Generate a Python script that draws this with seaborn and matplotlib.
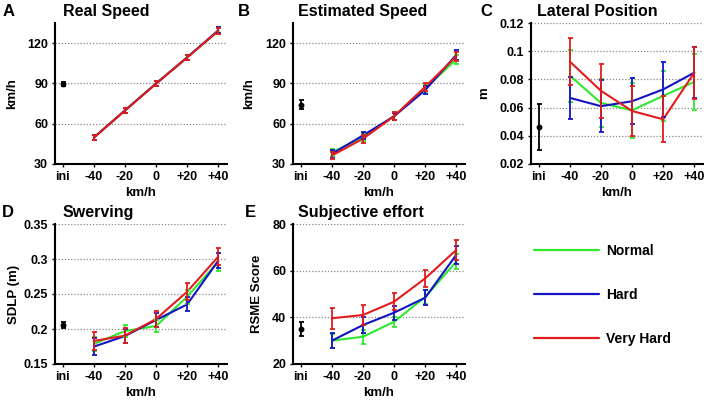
import numpy as np
import pandas as pd
import matplotlib
matplotlib.use("Agg")
import matplotlib.pyplot as plt
from matplotlib.lines import Line2D
import seaborn as sns

# ---------------- data ----------------
tick_labels = ["ini", "-40", "-20", "0", "+20", "+40"]
conditions = ["Normal", "Hard", "Very Hard"]
colors = {"Normal": "#2ee82e", "Hard": "#1414c4", "Very Hard": "#e21c1c"}

# A  Real speed
real_ini = 89.6
real_ini_err = 1.8
real_normal = [49.8, 70.0, 90.0, 109.5, 129.0]
real_hard = [49.7, 69.9, 89.9, 109.4, 129.5]
real_vhard = [49.6, 69.8, 89.8, 109.3, 129.2]
real_err = [1.8, 1.8, 1.8, 1.8, 2.2]

# B  Estimated speed
est_ini = 74.3
est_ini_err = 3.2
est_normal = [38.7, 50.0, 65.8, 86.2, 108.0]
est_hard = [37.5, 51.3, 65.5, 85.0, 111.3]
est_vhard = [36.3, 48.8, 65.6, 87.5, 110.2]
est_err = [2.8, 2.8, 2.8, 3.0, 3.5]

# C  Lateral position
lat_ini = 0.0464
lat_ini_err = 0.0165
lat_normal = [0.0826, 0.0633, 0.0581, 0.0683, 0.0783]
lat_normal_err = [0.0185, 0.0170, 0.0195, 0.0180, 0.0200]
lat_hard = [0.0669, 0.0610, 0.0645, 0.0729, 0.0848]
lat_hard_err = [0.0150, 0.0185, 0.0163, 0.0195, 0.0180]
lat_vhard = [0.0926, 0.0719, 0.0576, 0.0517, 0.0848]
lat_vhard_err = [0.0168, 0.0190, 0.0175, 0.0163, 0.0185]

# D  Swerving
sdlp_ini = 0.2057
sdlp_ini_err = 0.004
sdlp_normal = [0.1786, 0.1971, 0.2043, 0.2462, 0.2962]
sdlp_normal_err = [0.010, 0.009, 0.009, 0.010, 0.013]
sdlp_hard = [0.1748, 0.1900, 0.2129, 0.2352, 0.2976]
sdlp_hard_err = [0.012, 0.010, 0.010, 0.010, 0.011]
sdlp_vhard = [0.1829, 0.1905, 0.2143, 0.2533, 0.3033]
sdlp_vhard_err = [0.013, 0.011, 0.011, 0.012, 0.012]

# E  Subjective effort
rsme_ini = 35.0
rsme_ini_err = 3.2
rsme_normal = [30.0, 31.7, 38.1, 48.7, 63.9]
rsme_normal_err = [3.0, 3.0, 2.2, 3.0, 3.3]
rsme_hard = [30.0, 36.7, 42.0, 48.4, 66.8]
rsme_hard_err = [3.2, 3.3, 3.0, 3.3, 3.8]
rsme_vhard = [39.6, 41.0, 46.7, 56.7, 68.9]
rsme_vhard_err = [4.4, 4.1, 3.6, 3.8, 4.2]

# ---------------- style ----------------
sns.set_style("ticks")
plt.rcParams["font.family"] = ["Liberation Sans", "DejaVu Sans"]
plt.rcParams["font.weight"] = "bold"
plt.rcParams["axes.labelweight"] = "bold"
plt.rcParams["text.color"] = "black"
plt.rcParams["axes.labelcolor"] = "black"
plt.rcParams["xtick.color"] = "black"
plt.rcParams["ytick.color"] = "black"

W, H = 708, 404
fig = plt.figure(figsize=(W / 100, H / 100), dpi=100)


def add_axes(left, top, right, bottom):
    return fig.add_axes([left / W, 1 - bottom / H, (right - left) / W, (bottom - top) / H])


def panel(ax, ini, ini_err, series, errs, ylim, yticks, yticklabels, ylabel, ylab_x):
    pos = np.arange(1, 6)
    rows = []
    for cond, vals in zip(conditions, series):
        for p, v in zip(pos, vals):
            rows.append({"pos": p, "value": v, "cond": cond})
    df = pd.DataFrame(rows)
    sns.lineplot(data=df, x="pos", y="value", hue="cond", hue_order=conditions,
                 palette=colors, errorbar=None, legend=False, ax=ax, linewidth=1.5, zorder=3)
    for cond, vals, e in zip(conditions, series, errs):
        ax.errorbar(pos, vals, yerr=e, fmt="none", ecolor=colors[cond], elinewidth=1.3,
                    capsize=1.8, capthick=1.3, zorder=4)
    ax.errorbar([0], [ini], yerr=[ini_err], fmt="o", color="black", markersize=3.2,
                elinewidth=1.3, capsize=1.8, capthick=1.3, zorder=4)
    ax.set_xlim(-0.25, 5.28)
    ax.set_ylim(*ylim)
    ax.set_xticks(range(6))
    ax.set_xticklabels(tick_labels)
    ax.set_yticks(yticks)
    ax.set_yticklabels(yticklabels)
    ax.yaxis.grid(True, linestyle=(0, (1, 1.5)), color="#8a8a8a", linewidth=0.9)
    ax.set_axisbelow(True)
    for s in ["top", "right"]:
        ax.spines[s].set_visible(False)
    for s in ["left", "bottom"]:
        ax.spines[s].set_linewidth(1.5)
        ax.spines[s].set_color("black")
    ax.tick_params(axis="both", length=2.5, width=1, pad=2.5, labelsize=9, colors="black")
    for lab in ax.get_xticklabels() + ax.get_yticklabels():
        lab.set_fontweight("bold")
    ax.set_xlabel("km/h", fontsize=9.5, fontweight="bold", labelpad=3, color="black")
    ax.set_ylabel(ylabel, fontsize=9.5, fontweight="bold", color="black")
    ax.yaxis.set_label_coords(ylab_x, 0.5)


axA = add_axes(55, 23, 227, 164)
panel(axA, real_ini, real_ini_err, [real_normal, real_hard, real_vhard],
      [real_err, real_err, real_err], (30, 135), [30, 60, 90, 120],
      ["30", "60", "90", "120"], "km/h", -0.215)

axB = add_axes(293, 23, 465, 164)
panel(axB, est_ini, est_ini_err, [est_normal, est_hard, est_vhard],
      [est_err, est_err, est_err], (30, 135), [30, 60, 90, 120],
      ["30", "60", "90", "120"], "km/h", -0.221)

axC = add_axes(531, 23, 703, 164)
panel(axC, lat_ini, lat_ini_err, [lat_normal, lat_hard, lat_vhard],
      [lat_normal_err, lat_hard_err, lat_vhard_err], (0.02, 0.12),
      [0.02, 0.04, 0.06, 0.08, 0.10, 0.12],
      ["0.02", "0.04", "0.06", "0.08", "0.1", "0.12"], "m", -0.238)

axD = add_axes(55, 224, 227, 364)
panel(axD, sdlp_ini, sdlp_ini_err, [sdlp_normal, sdlp_hard, sdlp_vhard],
      [sdlp_normal_err, sdlp_hard_err, sdlp_vhard_err], (0.15, 0.35),
      [0.15, 0.20, 0.25, 0.30, 0.35],
      ["0.15", "0.2", "0.25", "0.3", "0.35"], "SDLP (m)", -0.203)

axE = add_axes(293, 224, 465, 364)
panel(axE, rsme_ini, rsme_ini_err, [rsme_normal, rsme_hard, rsme_vhard],
      [rsme_normal_err, rsme_hard_err, rsme_vhard_err], (20, 80),
      [20, 40, 60, 80], ["20", "40", "60", "80"], "RSME Score", -0.174)

# titles and panel letters
def ftext(x, y, s, size):
    fig.text(x / W, 1 - y / H, s, fontsize=size, fontweight="bold", va="baseline",
             ha="left", color="black")

ftext(3, 16, "A", 12)
ftext(63, 16, "Real Speed", 11.5)
ftext(238, 16, "B", 12)
ftext(298, 16, "Estimated Speed", 11.5)
ftext(480, 16, "C", 12)
ftext(537, 16, "Lateral Position", 11.5)
ftext(2, 217, "D", 12)
ftext(63, 217, "Swerving", 11.5)
ftext(245, 217, "E", 12)
ftext(298, 217, "Subjective effort", 11.5)

# legend
handles = [Line2D([], [], color=colors[c], linewidth=1.6) for c in conditions]
leg = fig.legend(handles, conditions, loc="upper left", bbox_to_anchor=(534 / W, 1 - 244 / H),
                 frameon=False, handlelength=4.7, handletextpad=0.5, labelspacing=2.15,
                 borderpad=0, borderaxespad=0, labelcolor="black",
                 prop={"family": ["Liberation Sans", "DejaVu Sans"], "weight": "bold", "size": 10})

fig.savefig("out.png", dpi=100)
